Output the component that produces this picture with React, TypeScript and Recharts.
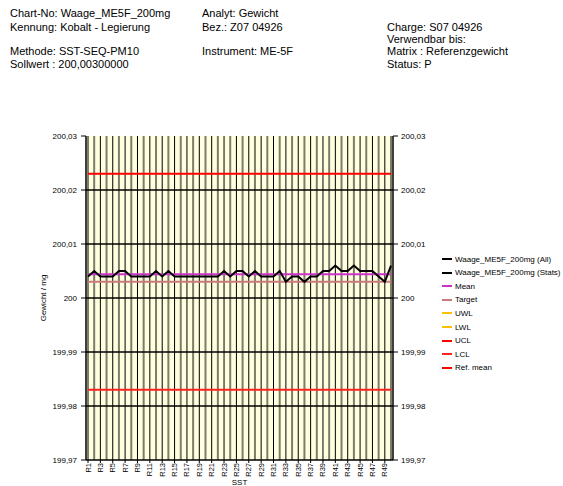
import React from 'react'
import { CartesianGrid, ComposedChart, Label, Line, ReferenceLine, XAxis, YAxis } from 'recharts'

const FONT = "'Liberation Sans', Arial, Helvetica, sans-serif"

const categories = Array.from({ length: 50 }, (_, i) => `R${i + 1}`)

// Waage_ME5F_200mg readings (mg)
const weights = [
  200.004, 200.005, 200.004, 200.004, 200.004, 200.005, 200.005, 200.004, 200.004, 200.004,
  200.004, 200.005, 200.004, 200.005, 200.004, 200.004, 200.004, 200.004, 200.004, 200.004,
  200.004, 200.004, 200.005, 200.004, 200.005, 200.005, 200.004, 200.005, 200.004, 200.004,
  200.004, 200.005, 200.003, 200.004, 200.004, 200.003, 200.004, 200.004, 200.005, 200.005,
  200.006, 200.005, 200.005, 200.006, 200.005, 200.005, 200.005, 200.004, 200.003, 200.006,
]

const MEAN = 200.0044
const TARGET = 200.003
const UCL = 200.023
const LCL = 199.983

const yTicks = [199.97, 199.98, 199.99, 200, 200.01, 200.02, 200.03]
const gridValues = [199.98, 199.99, 200, 200.01, 200.02]

const legendItems = [
  { name: 'Waage_ME5F_200mg (All)', color: '#000000' },
  { name: 'Waage_ME5F_200mg (Stats)', color: '#000000' },
  { name: 'Mean', color: '#cc33cc' },
  { name: 'Target', color: '#c97b7b' },
  { name: 'UWL', color: '#ffc000' },
  { name: 'LWL', color: '#ffc000' },
  { name: 'UCL', color: '#ff0000' },
  { name: 'LCL', color: '#ff2020' },
  { name: 'Ref. mean', color: '#ff0000' },
]

const headerLines = [
  { text: 'Chart-No: Waage_ME5F_200mg', x: 10, y: 13 },
  { text: 'Kennung: Kobalt - Legierung', x: 10, y: 27 },
  { text: 'Methode: SST-SEQ-PM10', x: 10, y: 51 },
  { text: 'Sollwert : 200,00300000', x: 10, y: 64 },
  { text: 'Analyt: Gewicht', x: 202, y: 13 },
  { text: 'Bez.: Z07 04926', x: 202, y: 27 },
  { text: 'Instrument: ME-5F', x: 202, y: 51 },
  { text: 'Charge: S07 04926', x: 387, y: 27 },
  { text: 'Verwendbar bis:', x: 387, y: 39 },
  { text: 'Matrix : Referenzgewicht', x: 387, y: 51 },
  { text: 'Status: P', x: 387, y: 64 },
]

const rows = categories.map((name, i) => ({
  name,
  value: weights[i],
  mean: MEAN,
  target: TARGET,
  ucl: UCL,
  lcl: LCL,
}))

const fmt = (v: number) => String(Number(v.toFixed(2))).replace('.', ',')

const XTick = (props: any) => {
  const { x, y, payload } = props
  return (
    <text
      x={x}
      y={y}
      transform={`rotate(-90, ${x}, ${y})`}
      textAnchor="end"
      dominantBaseline="central"
      fontSize={7.5}
      fontFamily={FONT}
      fill="#000"
    >
      {payload.value}
    </text>
  )
}

export default function App() {
  return (
    <div style={{ position: 'absolute', left: 0, top: 0, width: 563, height: 486, background: '#fff', fontFamily: FONT, overflow: 'hidden' }}>
      {headerLines.map((h) => (
        <div
          key={h.text}
          style={{ position: 'absolute', left: h.x, top: h.y - 7, fontSize: 11, lineHeight: '14px', whiteSpace: 'nowrap', color: '#000' }}
        >
          {h.text}
        </div>
      ))}

      <div style={{ position: 'absolute', left: 0, top: 0 }}>
        <ComposedChart width={563} height={486} data={rows} margin={{ top: 136, right: 130, bottom: 0, left: 0 }}>
          <CartesianGrid horizontal={false} vertical={false} fill="#ffffe0" />

          {categories.map((c, i) => (
            <ReferenceLine
              key={c}
              x={c}
              stroke={i % 2 === 0 ? '#000000' : '#7d7d6a'}
              strokeWidth={i % 2 === 0 ? 1 : 2}
            />
          ))}
          {gridValues.map((v) => (
            <ReferenceLine key={v} y={v} stroke="#000" strokeWidth={1.5} />
          ))}

          <XAxis
            dataKey="name"
            scale="point"
            padding={{ left: 2, right: 2 }}
            interval={1}
            height={26}
            tick={<XTick />}
            tickSize={3}
            tickMargin={0}
            axisLine={{ stroke: '#000', strokeWidth: 1.5 }}
            tickLine={{ stroke: '#000' }}
          >
            <Label value="SST" position="insideBottom" offset={1} style={{ fontSize: 8, fontFamily: FONT, fill: '#000' }} />
          </XAxis>

          <YAxis
            domain={[199.97, 200.03]}
            ticks={yTicks}
            tickFormatter={fmt}
            width={86}
            tickSize={5}
            tickMargin={4}
            tick={{ fontSize: 8, fill: '#000', fontFamily: FONT }}
            axisLine={{ stroke: '#000', strokeWidth: 1.5 }}
            tickLine={{ stroke: '#000' }}
            allowDataOverflow
          >
            <Label value="Gewicht / mg" angle={-90} position="center" style={{ fontSize: 8, fontFamily: FONT, fill: '#000' }} />
          </YAxis>
          <YAxis
            yAxisId="right"
            orientation="right"
            domain={[199.97, 200.03]}
            ticks={yTicks}
            tickFormatter={fmt}
            width={40}
            tickSize={5}
            tickMargin={3}
            tick={{ fontSize: 8, fill: '#000', fontFamily: FONT, textAnchor: 'start' }}
            axisLine={{ stroke: '#000', strokeWidth: 1.5 }}
            tickLine={{ stroke: '#000' }}
            allowDataOverflow
          />

          <Line dataKey="ucl" stroke="#ff0000" strokeWidth={2} dot={false} isAnimationActive={false} />
          <Line dataKey="lcl" stroke="#ff2020" strokeWidth={2} dot={false} isAnimationActive={false} />
          <Line dataKey="target" stroke="#c97b7b" strokeWidth={2} dot={false} isAnimationActive={false} />
          <Line dataKey="mean" stroke="#cc33cc" strokeWidth={2} dot={false} isAnimationActive={false} />
          <Line dataKey="value" stroke="#000" strokeWidth={2} dot={false} isAnimationActive={false} />
        </ComposedChart>
      </div>

      {legendItems.map((it, i) => (
        <div key={it.name} style={{ position: 'absolute', left: 442, top: 259 + i * 13.6 - 6, height: 12, display: 'flex', alignItems: 'center', whiteSpace: 'nowrap' }}>
          <span style={{ display: 'inline-block', width: 10, height: 2, background: it.color, marginRight: 3 }} />
          <span style={{ fontSize: 8, color: '#000' }}>{it.name}</span>
        </div>
      ))}
    </div>
  )
}
